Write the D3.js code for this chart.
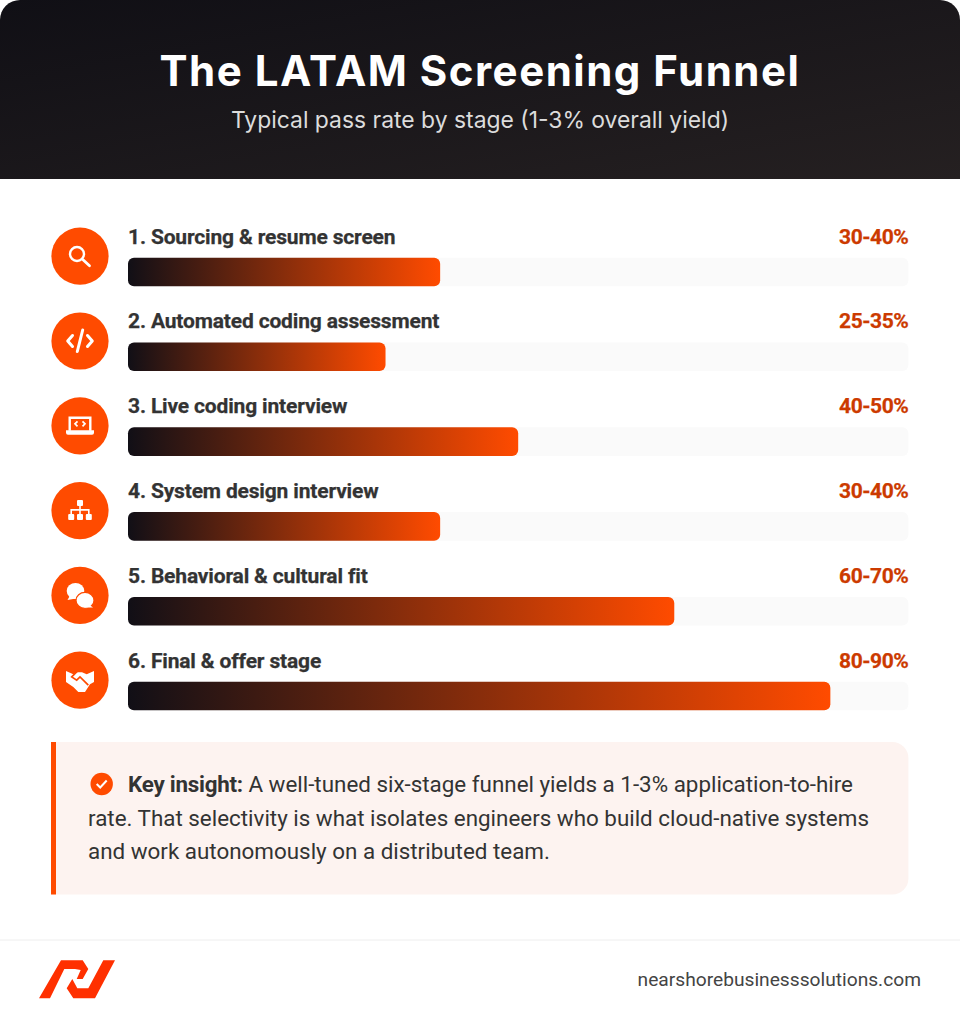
<!DOCTYPE html>
<html>
<head>
<meta charset="utf-8">
<script src="https://cdn.jsdelivr.net/npm/d3@7/dist/d3.min.js"></script>
<style>
  html, body { margin: 0; padding: 0; background: #fff; }
  svg { display: block; }
  text { font-family: Roboto, sans-serif; }
</style>
</head>
<body>
<div id="chart"></div>
<script>
const stages = [
  "1. Sourcing & resume screen",
  "2. Automated coding assessment",
  "3. Live coding interview",
  "4. System design interview",
  "5. Behavioral & cultural fit",
  "6. Final & offer stage"
];
const rangeLabels = ["30-40%", "25-35%", "40-50%", "30-40%", "60-70%", "80-90%"];
const barValues = [40, 33, 50, 40, 70, 90];
const icons = ["search", "code", "laptop", "sitemap", "comments", "handshake"];
const insightLines = [
  "A well-tuned six-stage funnel yields a 1-3% application-to-hire",
  "rate. That selectivity is what isolates engineers who build cloud-native systems",
  "and work autonomously on a distributed team."
];

const width = 960, height = 1018;
const ORANGE = "#ff4b00";

const svg = d3.select("#chart").append("svg")
  .attr("width", width).attr("height", height);

const defs = svg.append("defs");

const headGrad = defs.append("linearGradient").attr("id", "head-grad")
  .attr("x1", 0).attr("y1", 0).attr("x2", 1).attr("y2", 1);
headGrad.append("stop").attr("offset", "0%").attr("stop-color", "#100f15");
headGrad.append("stop").attr("offset", "100%").attr("stop-color", "#252021");

const barGrad = defs.append("linearGradient").attr("id", "bar-grad");
barGrad.append("stop").attr("offset", "0%").attr("stop-color", "#110f16");
barGrad.append("stop").attr("offset", "100%").attr("stop-color", ORANGE);

// --- Header ---
svg.append("path")
  .attr("d", "M0,179V20A20,20 0 0 1 20,0H940A20,20 0 0 1 960,20V179Z")
  .attr("fill", "url(#head-grad)");

// Montserrat in the original, Inter spaced out to the same width
svg.append("text")
  .attr("x", 480).attr("y", 85.5)
  .attr("text-anchor", "middle")
  .attr("font-size", 42).attr("font-weight", 700)
  .attr("letter-spacing", 1.5)
  .attr("fill", "#fff")
  .style("font-family", "Inter, sans-serif")
  .text("The LATAM Screening Funnel");

svg.append("text")
  .attr("x", 480).attr("y", 128)
  .attr("text-anchor", "middle")
  .attr("font-size", 22.9)
  .attr("fill", "#dcdcdc")
  .style("font-family", "Inter, sans-serif")
  .text("Typical pass rate by stage (1-3% overall yield)");

// --- Stages ---
const x = d3.scaleLinear().domain([0, 100]).range([128, 908.4]);
const y = d3.scaleBand().domain(d3.range(stages.length)).range([215, 723.8]).paddingInner(0);

const iconDraw = {
  search(g) {
    g.append("circle").attr("cx", -3).attr("cy", -2.2).attr("r", 7)
      .attr("fill", "none").attr("stroke", "#fff").attr("stroke-width", 2.4);
    g.append("path").attr("d", "M3,3.5L9.5,9.5")
      .attr("stroke", "#fff").attr("stroke-width", 2.8).attr("stroke-linecap", "round");
  },
  code(g) {
    g.append("path").attr("d", "M-7.5,-5.5L-12.3,0L-7.5,5.5M7.5,-5.5L12.3,0L7.5,5.5M2.7,-11L-2.7,10.5")
      .attr("fill", "none").attr("stroke", "#fff").attr("stroke-width", 3)
      .attr("stroke-linecap", "round").attr("stroke-linejoin", "round");
  },
  laptop(g) {
    g.append("path").attr("d", "M-10.3,5V-8H10.3V5")
      .attr("fill", "none").attr("stroke", "#fff").attr("stroke-width", 2.4);
    g.append("path").attr("d", "M-14,4.5H14V7Q14,9 12,9H-12Q-14,9 -14,7Z").attr("fill", "#fff");
    g.append("path").attr("d", "M-2.5,-4.5L-5,-2L-2.5,.5M2.5,-4.5L5,-2L2.5,.5")
      .attr("fill", "none").attr("stroke", "#fff").attr("stroke-width", 1.7);
  },
  sitemap(g) {
    g.append("rect").attr("x", -3).attr("y", -10.6).attr("width", 6).attr("height", 6).attr("rx", 1).attr("fill", "#fff");
    [-8.8, 0, 8.8].forEach(cx => g.append("rect")
      .attr("x", cx - 3).attr("y", 3.4).attr("width", 6).attr("height", 6).attr("rx", 1).attr("fill", "#fff"));
    g.append("path").attr("d", "M0,-5V4M-8.8,4V-.7H8.8V4")
      .attr("fill", "none").attr("stroke", "#fff").attr("stroke-width", 1.6);
  },
  comments(g) {
    g.append("ellipse").attr("cx", -4.5).attr("cy", -4.4).attr("rx", 8.8).attr("ry", 8).attr("fill", "#fff");
    g.append("path").attr("d", "M-10,0L-12.5,4.5L-4,3Z").attr("fill", "#fff");
    g.append("ellipse").attr("cx", 5).attr("cy", 5).attr("rx", 9).attr("ry", 8)
      .attr("fill", "#fff").attr("stroke", ORANGE).attr("stroke-width", 1.2);
    g.append("path").attr("d", "M9,9L13,12L4,12Z").attr("fill", "#fff");
  },
  handshake(g) {
    g.append("path")
      .attr("d", "M-14,-9.3L-6.7,-6L-2,-8L2,-8L6.7,-6L14,-9.3V1.7L10,4L5,11.7L-1.7,11.7L-6.7,6.7L-14,1.7Z")
      .attr("fill", "#fff");
    g.append("path").attr("d", "M-3.3,-8.3L-8.3,-3.3L-3.3,0L0,-3.3L8.3,5")
      .attr("fill", "none").attr("stroke", ORANGE).attr("stroke-width", 1.7);
  }
};

const rows = svg.selectAll("g.stage")
  .data(stages)
  .join("g")
  .attr("class", "stage")
  .attr("transform", (d, i) => `translate(0,${y(i)})`);

rows.append("circle")
  .attr("cx", 80).attr("cy", 41.2).attr("r", 28.6)
  .attr("fill", ORANGE);

rows.append("g")
  .attr("transform", "translate(80,41.2)")
  .each(function (d, i) { iconDraw[icons[i]](d3.select(this)); });

rows.append("text")
  .attr("x", 128).attr("y", 28.5)
  .attr("font-size", 21).attr("font-weight", 700)
  .attr("letter-spacing", -0.16)
  .attr("fill", "#333").attr("stroke", "#333").attr("stroke-width", 0.25)
  .text(d => d);

rows.append("text")
  .attr("x", 908.4).attr("y", 28.5)
  .attr("text-anchor", "end")
  .attr("font-size", 21).attr("font-weight", 700)
  .attr("letter-spacing", -0.45)
  .attr("fill", "#cc3a00").attr("stroke", "#cc3a00").attr("stroke-width", 0.25)
  .text((d, i) => rangeLabels[i]);

rows.append("rect")
  .attr("x", x(0)).attr("y", 42.7)
  .attr("width", x(100) - x(0)).attr("height", 28.6).attr("rx", 6)
  .attr("fill", "#fafafa");

rows.append("rect")
  .attr("x", x(0)).attr("y", 42.7)
  .attr("width", (d, i) => x(barValues[i]) - x(0)).attr("height", 28.6).attr("rx", 6)
  .attr("fill", "url(#bar-grad)");

// --- Insight box ---
svg.append("path")
  .attr("d", "M51,742H892.4A16,16 0 0 1 908.4,758V878.5A16,16 0 0 1 892.4,894.5H51Z")
  .attr("fill", "#fdf3f0");
svg.append("rect")
  .attr("x", 51).attr("y", 742).attr("width", 5).attr("height", 152.5)
  .attr("fill", ORANGE);

const check = svg.append("g").attr("transform", "translate(101.7,784)");
check.append("circle").attr("r", 11.2).attr("fill", ORANGE);
check.append("path").attr("d", "M-5,0L-1.5,3.5L5,-3.5")
  .attr("fill", "none").attr("stroke", "#fff").attr("stroke-width", 2);

const insight = svg.append("text")
  .attr("font-size", 22.4)
  .attr("fill", "#333");
const firstLine = insight.append("tspan").attr("x", 128).attr("y", 792);
firstLine.append("tspan").attr("font-weight", 700).attr("letter-spacing", -0.25).text("Key insight:");
firstLine.append("tspan").text(" " + insightLines[0]);
insightLines.slice(1).forEach((line, i) => {
  insight.append("tspan").attr("x", 88).attr("y", 825.5 + i * 33.5).text(line);
});

// --- Footer ---
svg.append("line")
  .attr("x1", 0).attr("x2", width).attr("y1", 940).attr("y2", 940)
  .attr("stroke", "#eeeeee");

svg.append("path")
  .attr("d", "M39,998.3L61,960.3H82.7L88.3,969L82.7,979H76.7L80.7,970L75,969H64.3L50,998.3Z" +
             "M115,960.3L95,998.3H73.3L66.7,988.3L72.3,979L77.3,988.3H88.3L103.3,960.3Z")
  .attr("fill", "#ff3000");

svg.append("text")
  .attr("x", 921).attr("y", 986)
  .attr("text-anchor", "end")
  .attr("font-size", 19.2)
  .attr("fill", "#444")
  .text("nearshorebusinesssolutions.com");
</script>
</body>
</html>
